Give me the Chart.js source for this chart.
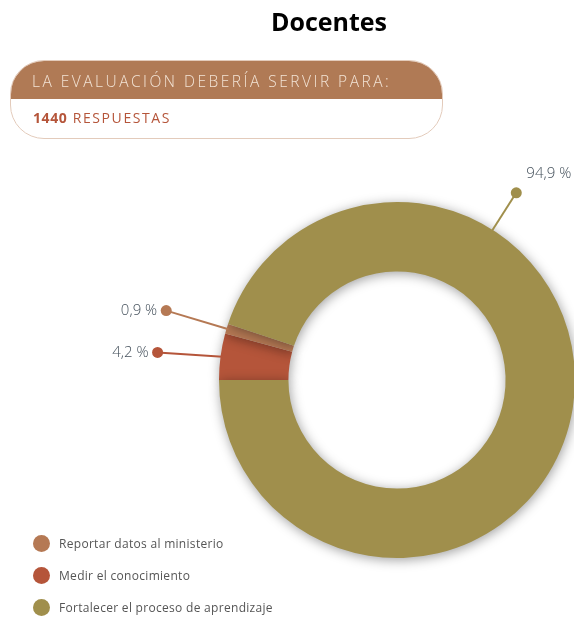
<!DOCTYPE html>
<html><head><meta charset="utf-8">
<script src="https://cdn.jsdelivr.net/npm/chart.js@4"></script>
<style>
html,body{margin:0;padding:0;width:574px;height:620px;overflow:hidden;background:#fff;font-family:"Open Sans",sans-serif;}
#wrap{position:absolute;left:0;top:0;width:600px;height:620px;}
#title{position:absolute;left:229px;width:200px;top:4px;text-align:center;font:bold 25px "Open Sans",sans-serif;color:#000;letter-spacing:0px;}
#box{position:absolute;left:10px;top:60px;width:433px;height:79px;border:1px solid #e3cbbb;border-radius:34px;overflow:hidden;box-sizing:border-box;}
#band{height:38px;background:#b07a55;color:#f3e4d6;font:300 15.5px "Open Sans",sans-serif;letter-spacing:2.5px;line-height:40px;padding-left:21px;white-space:nowrap;}
#resp{font:14px "Open Sans",sans-serif;color:#b5553a;letter-spacing:1.6px;padding-left:22px;line-height:38px;white-space:nowrap;}
#resp b{font-weight:700;letter-spacing:0.6px;}
#legend{position:absolute;left:33px;top:527px;}
.li{height:32px;display:flex;align-items:center;font:12px "Open Sans",sans-serif;color:#555;letter-spacing:0.3px;}
.dot{width:17px;height:17px;border-radius:50%;margin-right:9px;}
</style></head>
<body>
<div id="wrap"><canvas id="c" width="600" height="620"></canvas></div>
<div id="title">Docentes</div>
<div id="box"><div id="band">LA EVALUACIÓN DEBERÍA SERVIR PARA:</div><div id="resp"><b>1440</b> RESPUESTAS</div></div>
<div id="legend"></div>
<script>
const categories = ['Reportar datos al ministerio', 'Medir el conocimiento', 'Fortalecer el proceso de aprendizaje'];
const values = [0.9, 4.2, 94.9];
const colors = ['#b57954', '#b5553a', '#a08f4c'];
const ringOrder = [1, 0, 2];
const totalResponses = 1440;

const ringLabels = ringOrder.map(i => categories[i]);
const ringValues = ringOrder.map(i => values[i]);
const ringColors = ringOrder.map(i => colors[i]);

// legend
const lg = document.getElementById('legend');
categories.forEach((c, i) => {
  const d = document.createElement('div'); d.className = 'li';
  d.innerHTML = '<span class="dot" style="background:' + colors[i] + '"></span>' + c;
  lg.appendChild(d);
});

const fmt = v => v.toFixed(1).replace('.', ',') + ' %';

const shadowPlugin = {
  id: 'shadow',
  beforeDatasetsDraw(chart) {
    const ctx = chart.ctx; ctx.save();
    ctx.shadowColor = 'rgba(0,0,0,0.38)'; ctx.shadowBlur = 12; ctx.shadowOffsetX = 1; ctx.shadowOffsetY = 2;
  },
  afterDatasetsDraw(chart) { chart.ctx.restore(); }
};

// callout: index in ring order, extension, optional fixed angle, dot angle offset (deg), text offset
const callouts = [
  { i: 0, ext: 63, da: -1, tdx: -9, tdy: 0 },
  { i: 1, ext: 63, da: 0, tdx: -9, tdy: 0 },
  { i: 2, ext: 44, angle: 57.5, da: 0, tdx: 55, tdy: -19 }
];
const calloutPlugin = {
  id: 'callouts',
  afterDraw(chart) {
    const ctx = chart.ctx;
    const meta = chart.getDatasetMeta(0);
    callouts.forEach(co => {
      const arc = meta.data[co.i];
      const cx = arc.x, cy = arc.y, r = arc.outerRadius;
      const a = co.angle !== undefined ? -co.angle * Math.PI / 180 : (arc.startAngle + arc.endAngle) / 2;
      const a2 = a + co.da * Math.PI / 180;
      const x0 = cx + Math.cos(a) * (r - 2), y0 = cy + Math.sin(a) * (r - 2);
      const x1 = cx + Math.cos(a2) * (r + co.ext), y1 = cy + Math.sin(a2) * (r + co.ext);
      const col = ringColors[co.i];
      ctx.save();
      ctx.strokeStyle = col; ctx.lineWidth = 2;
      ctx.beginPath(); ctx.moveTo(x0, y0); ctx.lineTo(x1, y1); ctx.stroke();
      ctx.fillStyle = col; ctx.beginPath(); ctx.arc(x1, y1, 5.5, 0, Math.PI * 2); ctx.fill();
      ctx.fillStyle = '#45515c'; ctx.font = '300 15px "Open Sans", sans-serif';
      ctx.textAlign = 'right'; ctx.textBaseline = 'middle';
      ctx.fillText(fmt(ringValues[co.i]), x1 + co.tdx, y1 + co.tdy);
      ctx.restore();
    });
  }
};

new Chart(document.getElementById('c'), {
  type: 'doughnut',
  data: { labels: ringLabels, datasets: [{ data: ringValues, backgroundColor: ringColors, borderWidth: 0 }] },
  options: {
    responsive: false, animation: false,
    rotation: 270, cutout: '61%',
    layout: { padding: { left: 219, right: 25, top: 202, bottom: 62 } },
    plugins: { legend: { display: false }, tooltip: { enabled: false } }
  },
  plugins: [shadowPlugin, calloutPlugin]
});
</script>
</body></html>
